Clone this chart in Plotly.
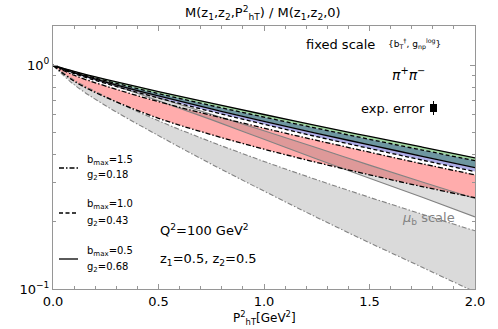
import plotly.graph_objects as go

# P_hT^2 grid [GeV^2]
pht2 = [0.0, 0.1, 0.25, 0.5, 0.75, 1.0, 1.25, 1.5, 1.75, 2.0]

# b_max=0.5, g2=0.68 (solid) band edges
solid_up = [1.0, 0.940, 0.866, 0.764, 0.678, 0.603, 0.538, 0.481, 0.431, 0.386]
solid_lo = [1.0, 0.925, 0.842, 0.730, 0.639, 0.562, 0.497, 0.441, 0.392, 0.349]
# b_max=1.0, g2=0.43 (dashed) band edges
dash_up = [1.0, 0.932, 0.854, 0.748, 0.661, 0.587, 0.523, 0.467, 0.418, 0.375]
dash_lo = [1.0, 0.918, 0.830, 0.714, 0.622, 0.545, 0.480, 0.425, 0.377, 0.335]
# b_max=1.5, g2=0.18 (dash-dot) band edges
dd_up = [1.0, 0.903, 0.808, 0.688, 0.598, 0.524, 0.462, 0.409, 0.363, 0.324]
dd_lo = [1.0, 0.850, 0.720, 0.580, 0.490, 0.422, 0.368, 0.324, 0.287, 0.256]
# grey band (solid grey edges)
grey_up = [1.0, 0.938, 0.850, 0.716, 0.605, 0.510, 0.428, 0.358, 0.301, 0.254]
grey_lo = [1.0, 0.932, 0.838, 0.695, 0.572, 0.467, 0.381, 0.313, 0.257, 0.210]
# mu_b scale band
mub_up = [1.0, 0.860, 0.725, 0.565, 0.455, 0.372, 0.308, 0.257, 0.216, 0.182]
mub_lo = [1.0, 0.820, 0.660, 0.485, 0.362, 0.274, 0.209, 0.161, 0.125, 0.097]

FONT = "DejaVu Sans"
DASH = "4px,2.5px"
DASHDOT = "5px,2px,1.5px,2px"
fig = go.Figure()


def band(y_top, y_bot, color):
    fig.add_trace(go.Scatter(x=pht2, y=y_top, mode="lines", line=dict(width=0, shape="spline"),
                             showlegend=False, hoverinfo="skip"))
    fig.add_trace(go.Scatter(x=pht2, y=y_bot, mode="lines", line=dict(width=0, shape="spline"),
                             fill="tonexty", fillcolor=color, showlegend=False,
                             hoverinfo="skip"))


# filled regions
band(mub_up, mub_lo, "rgb(218,218,218)")
band(dd_up, dd_lo, "rgb(255,172,172)")
band(solid_up, dash_up, "rgb(160,215,160)")
band(dash_up, solid_lo, "rgb(110,150,160)")
band(solid_lo, dash_lo, "rgb(172,172,230)")
band(grey_up, grey_lo, "rgba(60,60,60,0.17)")


def curve(y, color, dash, width=1.3):
    fig.add_trace(go.Scatter(x=pht2, y=y, mode="lines", showlegend=False, hoverinfo="skip",
                             line=dict(color=color, dash=dash, width=width, shape="spline")))


curve(mub_up, "rgb(130,130,130)", DASHDOT, 1.1)
curve(mub_lo, "rgb(130,130,130)", DASHDOT, 1.1)
curve(grey_up, "rgb(130,130,130)", "solid", 1.1)
curve(grey_lo, "rgb(130,130,130)", "solid", 1.1)
curve(dd_up, "black", DASHDOT)
curve(dd_lo, "black", DASHDOT)
curve(dash_up, "black", DASH)
curve(dash_lo, "black", DASH)
curve(solid_up, "black", "solid")
curve(solid_lo, "black", "solid")


def px(x):
    return (x - 53) / 422


def py(y):
    return (289 - y) / 263


ann = []


def text(x, y, s, size=12, color="black", anchor="left"):
    ann.append(dict(x=px(x), y=py(y), xref="paper", yref="paper", text=s, showarrow=False,
                    xanchor=anchor, yanchor="middle", font=dict(family=FONT, size=size, color=color)))


text(263, 13, "M(z<sub>1</sub>,z<sub>2</sub>,P<sup>2</sup><sub>hT</sub>) / M(z<sub>1</sub>,z<sub>2</sub>,0)", 13, anchor="center")
text(264, 318, "P<sup>2</sup><sub>hT</sub>[GeV<sup>2</sup>]", 12, anchor="center")
text(304, 44, "fixed scale", 13)
text(386, 44, "{b<sub>T</sub><sup>†</sup>, g<sub>np</sub><sup>log</sup>}", 9)
text(390, 74, "<i>π</i><sup>+</sup><i>π</i><sup>−</sup>", 14)
text(427, 108, "exp. error", 13, anchor="right")
text(400, 219, "<i>μ</i><sub>b</sub> scale", 13, color="rgb(130,130,130)")
text(85, 160, "b<sub>max</sub>=1.5", 10)
text(85, 175, "g<sub>2</sub>=0.18", 10)
text(85, 205, "b<sub>max</sub>=1.0", 10)
text(85, 221, "g<sub>2</sub>=0.43", 10)
text(85, 251, "b<sub>max</sub>=0.5", 10)
text(85, 267, "g<sub>2</sub>=0.68", 10)
text(158, 230, "Q<sup>2</sup>=100 GeV<sup>2</sup>", 13)
text(158, 259, "z<sub>1</sub>=0.5, z<sub>2</sub>=0.5", 13)

shapes = []
for yy, dash in [(168, DASHDOT), (213, DASH), (259, "solid")]:
    shapes.append(dict(type="line", xref="paper", yref="paper", x0=px(59), x1=px(78),
                       y0=py(yy), y1=py(yy), line=dict(color="black", width=1.3, dash=dash)))
shapes.append(dict(type="rect", xref="paper", yref="paper", x0=px(430), x1=px(437),
                   y0=py(112), y1=py(104), fillcolor="black", line=dict(width=0)))
shapes.append(dict(type="line", xref="paper", yref="paper", x0=px(433.5), x1=px(433.5),
                   y0=py(115), y1=py(101), line=dict(color="black", width=1)))

axcol = "rgb(150,150,150)"
fig.update_layout(
    width=498, height=329,
    margin=dict(l=53, r=23, t=26, b=40),
    plot_bgcolor="white", paper_bgcolor="white",
    font=dict(family=FONT, size=12, color="black"),
    annotations=ann, shapes=shapes,
    xaxis=dict(range=[0, 2], tickvals=[0, 0.5, 1.0, 1.5, 2.0],
               ticktext=["0.0", "0.5", "1.0", "1.5", "2.0"],
               ticks="inside", ticklen=5, tickcolor=axcol, mirror="ticks",
               showline=True, linecolor=axcol, showgrid=False, zeroline=False,
               minor=dict(ticks="inside", ticklen=3, tickcolor=axcol, dtick=0.1),
               tickfont=dict(size=13)),
    yaxis=dict(type="log", range=[-1, 0.176], tickvals=[0.1, 1],
               ticktext=["10<sup>−1</sup>", "10<sup>0</sup>"],
               ticks="inside", ticklen=5, tickcolor=axcol, mirror="ticks",
               showline=True, linecolor=axcol, showgrid=False, zeroline=False,
               minor=dict(ticks="inside", ticklen=3, tickcolor=axcol,
                          tickvals=[0.2, 0.3, 0.4, 0.5, 0.6, 0.7, 0.8, 0.9]),
               tickfont=dict(size=13)),
)

fig.write_html("out.html", config={"displayModeBar": False},
               post_script="document.body.style.margin='0';")
